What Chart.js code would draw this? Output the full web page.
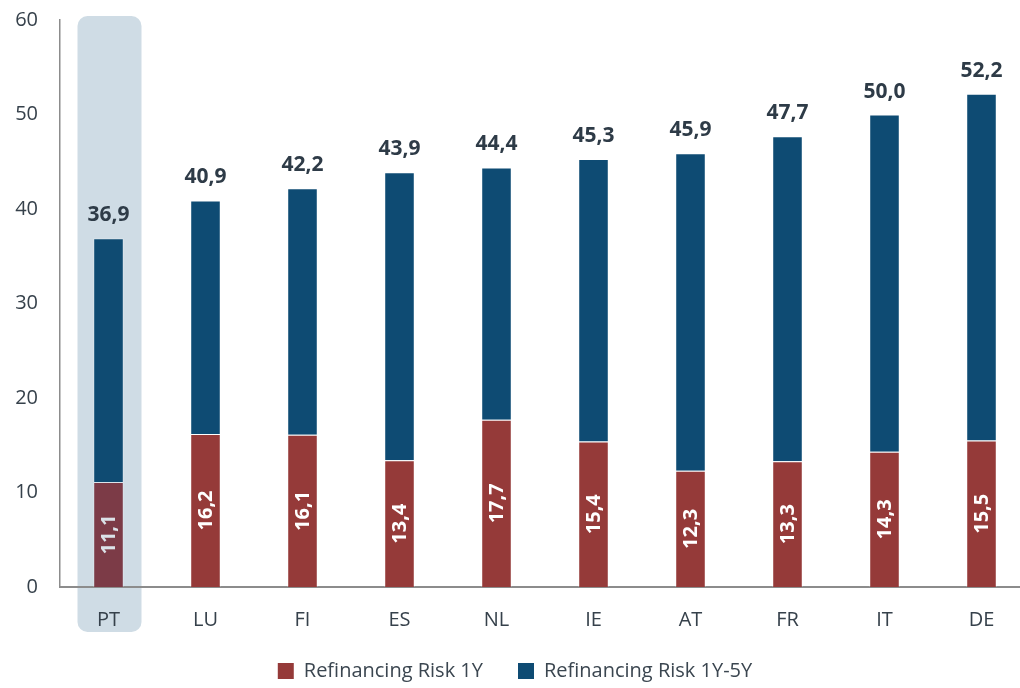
<!DOCTYPE html>
<html>
<head>
<meta charset="utf-8">
<script src="https://cdn.jsdelivr.net/npm/chart.js@4.4.1/dist/chart.umd.min.js"></script>
<style>
  html, body { margin: 0; padding: 0; background: #ffffff; overflow: hidden; }
  #wrap { position: relative; width: 1040px; height: 688px; }
</style>
</head>
<body>
<div id="wrap"><canvas id="chart"></canvas></div>
<script>
// Countries, ordered by total refinancing risk
const countries = ['PT', 'LU', 'FI', 'ES', 'NL', 'IE', 'AT', 'FR', 'IT', 'DE'];
// Refinancing risk within 1 year
const risk1Y = [11.1, 16.2, 16.1, 13.4, 17.7, 15.4, 12.3, 13.3, 14.3, 15.5];
// Refinancing risk between 1 and 5 years
const risk1Y5Y = [25.8, 24.7, 26.1, 30.5, 26.7, 29.9, 33.6, 34.4, 35.7, 36.7];
// Total (stack top) labels
const totals = [36.9, 40.9, 42.2, 43.9, 44.4, 45.3, 45.9, 47.7, 50.0, 52.2];
// Y-axis ticks
const yTicks = [0, 10, 20, 30, 40, 50, 60];

const highlighted = 'PT';
const FONT = "'Open Sans', 'Noto Sans', sans-serif";

const RED = '#953a39', RED_HL = '#7c3b47';
const BLUE = '#0e4b73', BLUE_HL = '#0f4b72';

const fmt = v => v.toFixed(1).replace('.', ',');

// Rounded backdrop behind the highlighted country
const highlightPlugin = {
  id: 'highlight',
  beforeDraw(chart) {
    const { ctx, scales: { x, y }, chartArea } = chart;
    const i = countries.indexOf(highlighted);
    if (i < 0) return;
    const cx = x.getPixelForValue(i);
    const left = cx - 31, right = cx + 33;
    const top = y.getPixelForValue(60) - 4;
    const bottom = chartArea.bottom + 45;
    ctx.save();
    ctx.fillStyle = '#cfdce5';
    ctx.beginPath();
    ctx.roundRect(left, top, right - left, bottom - top, 10);
    ctx.fill();
    ctx.restore();
  }
};

// Value labels: totals above each stack, 1Y values rotated inside the red segment
const labelPlugin = {
  id: 'valueLabels',
  afterDatasetsDraw(chart) {
    const { ctx } = chart;
    const redMeta = chart.getDatasetMeta(0);
    const blueMeta = chart.getDatasetMeta(1);
    ctx.save();
    blueMeta.data.forEach((bar, i) => {
      ctx.font = `bold 21px ${FONT}`;
      ctx.fillStyle = '#2e3b47';
      ctx.textAlign = 'center';
      ctx.textBaseline = 'alphabetic';
      ctx.fillText(fmt(totals[i]), bar.x, bar.y - 17);
    });
    redMeta.data.forEach((bar, i) => {
      const midY = (bar.y + bar.base) / 2;
      ctx.save();
      ctx.translate(bar.x, midY);
      ctx.rotate(-Math.PI / 2);
      ctx.font = `bold 20px ${FONT}`;
      ctx.fillStyle = countries[i] === highlighted ? '#dbe2e8' : '#ffffff';
      ctx.textAlign = 'center';
      ctx.textBaseline = 'middle';
      ctx.fillText(fmt(risk1Y[i]), 0, 1);
      ctx.restore();
    });
    ctx.restore();
  }
};

new Chart(document.getElementById('chart'), {
  type: 'bar',
  data: {
    labels: countries,
    datasets: [
      {
        label: 'Refinancing Risk 1Y',
        data: risk1Y,
        backgroundColor: ctx => countries[ctx.dataIndex] === highlighted ? RED_HL : RED,
        borderColor: 'rgba(255,255,255,0.28)',
        borderWidth: 1,
        barPercentage: 0.315,
        categoryPercentage: 1.0
      },
      {
        label: 'Refinancing Risk 1Y-5Y',
        data: risk1Y5Y,
        backgroundColor: ctx => countries[ctx.dataIndex] === highlighted ? BLUE_HL : BLUE,
        borderColor: 'rgba(255,255,255,0.28)',
        borderWidth: 1,
        barPercentage: 0.315,
        categoryPercentage: 1.0
      }
    ]
  },
  options: {
    responsive: true,
    maintainAspectRatio: false,
    animation: false,
    layout: { padding: { top: 20, right: 10, bottom: -3, left: 0 } },
    plugins: {
      legend: {
        position: 'bottom',
        labels: {
          font: { family: FONT, size: 20 },
          color: '#3b4650',
          boxWidth: 16,
          boxHeight: 16,
          padding: 35,
          generateLabels(chart) {
            return chart.data.datasets.map((ds, i) => ({
              text: ds.label,
              fillStyle: i === 0 ? RED : BLUE,
              strokeStyle: i === 0 ? RED : BLUE,
              lineWidth: 0,
              fontColor: '#3b4650',
              datasetIndex: i,
              hidden: false
            }));
          }
        }
      },
      tooltip: { enabled: false }
    },
    scales: {
      x: {
        stacked: true,
        grid: { display: false, drawTicks: false },
        border: { display: true, color: '#8c8c8c', width: 2 },
        ticks: { font: { family: FONT, size: 20 }, color: '#36414b', padding: 21 },
        afterFit(scale) { scale.height = 39; }
      },
      y: {
        stacked: true,
        min: 0,
        max: 60,
        grid: { display: false, drawTicks: false },
        border: { display: true, color: '#8c8c8c', width: 1.5 },
        afterBuildTicks(scale) { scale.ticks = yTicks.map(v => ({ value: v })); },
        ticks: { font: { family: FONT, size: 20 }, color: '#36414b', padding: 22 },
        afterFit(scale) {
          scale.width = 60;
          scale.paddingTop = 0;
          scale.paddingBottom = 0;
        }
      }
    }
  },
  plugins: [highlightPlugin, labelPlugin]
});
</script>
</body>
</html>
